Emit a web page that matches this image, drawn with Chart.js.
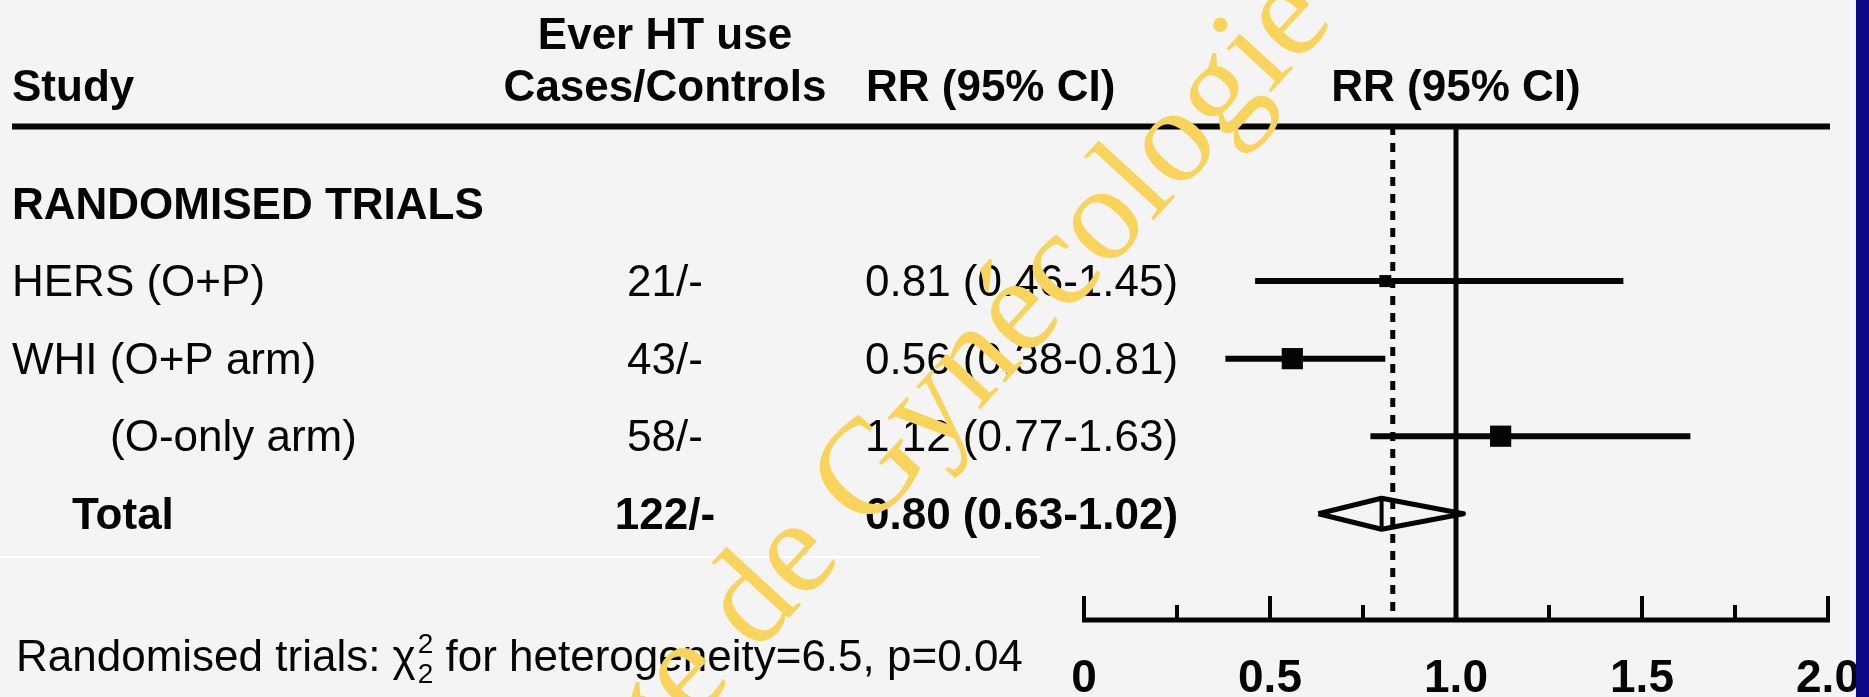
<!DOCTYPE html>
<html>
<head>
<meta charset="utf-8">
<script src="https://cdn.jsdelivr.net/npm/chart.js@4.4.1/dist/chart.umd.min.js"></script>
<style>
  html, body { margin: 0; padding: 0; background: #f4f4f4; overflow: hidden; }
  #wrap { position: relative; width: 1869px; height: 697px; }
  canvas { display: block; }
</style>
</head>
<body>
<div id="wrap"><canvas id="forest" width="1869" height="697"></canvas></div>
<script>
// ---- Study data ----
const sectionTitle = 'RANDOMISED TRIALS';
const studyNames = ['HERS (O+P)', 'WHI (O+P arm)', '(O-only arm)'];
const studyCases = ['21/-', '43/-', '58/-'];
const studyRR = [0.81, 0.56, 1.12];
const studyLow = [0.46, 0.38, 0.77];
const studyHigh = [1.45, 0.81, 1.63];
const studyRows = [2, 3, 4];

const totalName = 'Total';
const totalCases = '122/-';
const totalRR = 0.80;
const totalLow = 0.63;
const totalHigh = 1.02;
const totalRow = 5;
const sectionRow = 1;

// pooled estimate (dashed) and line of no effect
const pooledRR = 0.83;
const noEffectRR = 1.0;

// axis ticks
const tickValues = [0, 0.25, 0.5, 0.75, 1.0, 1.25, 1.5, 1.75, 2.0];
const tickLabels = ['0', '', '0.5', '', '1.0', '', '1.5', '', '2.0'];

const footnote = {
  before: 'Randomised trials: ',
  symbol: '\u03C7',
  sup: '2',
  sub: '2',
  after: ' for heterogeneity=6.5, p=0.04'
};

// ---- drawing helpers ----
const fmt = v => v.toFixed(2);
const ciText = (r, l, h) => `${fmt(r)} (${fmt(l)}-${fmt(h)})`;

const Y_MIN = 0, Y_MAX = 6.37;
const DIAMOND_HALF = 0.2;
const SANS = '"Liberation Sans", Arial, Helvetica, sans-serif';
const INK = '#050505';
const TEXT_DY = 3;

const lineDefaults = {
  showLine: true, pointRadius: 0, borderColor: INK, fill: false,
  tension: 0, borderCapStyle: 'butt', borderJoinStyle: 'miter'
};

const datasets = [];
// line of no effect
datasets.push(Object.assign({}, lineDefaults, {
  data: [{ x: noEffectRR, y: Y_MIN }, { x: noEffectRR, y: Y_MAX }],
  borderWidth: 5
}));
// pooled estimate, dashed
datasets.push(Object.assign({}, lineDefaults, {
  data: [{ x: pooledRR, y: Y_MIN }, { x: pooledRR, y: Y_MAX }],
  borderWidth: 5, borderDash: [9, 8]
}));
// confidence intervals
studyRR.forEach((_, i) => {
  datasets.push(Object.assign({}, lineDefaults, {
    data: [{ x: studyLow[i], y: studyRows[i] }, { x: studyHigh[i], y: studyRows[i] }],
    borderWidth: 6
  }));
});
// point estimates (box size reflects weight)
datasets.push({
  showLine: false,
  data: studyRR.map((v, i) => ({ x: v, y: studyRows[i] })),
  pointStyle: 'rect',
  pointRadius: [8.5, 15, 15],
  pointBackgroundColor: INK,
  pointBorderColor: INK,
  pointBorderWidth: 0
});
// pooled diamond
datasets.push(Object.assign({}, lineDefaults, {
  data: [
    { x: totalLow, y: totalRow },
    { x: totalRR, y: totalRow - DIAMOND_HALF },
    { x: totalHigh, y: totalRow },
    { x: totalRR, y: totalRow + DIAMOND_HALF },
    { x: totalLow, y: totalRow }
  ],
  borderWidth: 5, borderJoinStyle: 'round'
}));
datasets.push(Object.assign({}, lineDefaults, {
  data: [{ x: totalRR, y: totalRow - DIAMOND_HALF }, { x: totalRR, y: totalRow + DIAMOND_HALF }],
  borderWidth: 4
}));

const forestDecor = {
  id: 'forestDecor',
  beforeDraw(chart) {
    const { ctx, width, height } = chart;
    ctx.save();
    ctx.fillStyle = '#f4f4f4';
    ctx.fillRect(0, 0, width, height);
    // faint seam under the table
    ctx.fillStyle = '#ffffff';
    ctx.fillRect(0, 556, 1040, 2);
    ctx.restore();
  },
  afterDatasetsDraw(chart) {
    const { ctx, chartArea } = chart;
    const xs = chart.scales.x, ys = chart.scales.y;
    const x0 = xs.getPixelForValue(0), x2 = xs.getPixelForValue(2);
    const top = ys.getPixelForValue(Y_MIN);
    const axisY = chartArea.bottom;
    const rowY = r => ys.getPixelForValue(r) + TEXT_DY;
    ctx.save();
    ctx.fillStyle = INK;

    // header rule
    ctx.fillRect(12, top - 2.5, x2 + 2 - 12, 6);

    // x axis with upward ticks
    ctx.fillRect(x0 - 2, axisY - 2.5, x2 - x0 + 4, 5);
    ctx.font = `bold 46px ${SANS}`;
    ctx.textAlign = 'center';
    ctx.textBaseline = 'middle';
    tickValues.forEach((v, i) => {
      const px = xs.getPixelForValue(v);
      const major = tickLabels[i] !== '';
      const h = major ? 24 : 15;
      ctx.fillRect(px - 2, axisY - h, 4, h);
      if (major) ctx.fillText(tickLabels[i], px, 679);
    });

    // column headings
    ctx.font = `bold 44px ${SANS}`;
    ctx.textBaseline = 'middle';
    ctx.textAlign = 'center';
    ctx.fillText('Ever HT use', 665, 37);
    ctx.fillText('Cases/Controls', 665, 89);
    ctx.fillText('RR (95% CI)', xs.getPixelForValue(noEffectRR), 89);
    ctx.textAlign = 'left';
    ctx.fillText('Study', 12, 89);
    ctx.fillText('RR (95% CI)', 866, 89);

    // section title
    ctx.fillText(sectionTitle, 12, rowY(sectionRow));

    // study rows
    ctx.font = `44px ${SANS}`;
    studyNames.forEach((name, i) => {
      const py = rowY(studyRows[i]);
      ctx.textAlign = 'left';
      ctx.fillText(name, name.startsWith('(') ? 110 : 12, py);
      ctx.fillText(ciText(studyRR[i], studyLow[i], studyHigh[i]), 865, py);
      ctx.textAlign = 'center';
      ctx.fillText(studyCases[i], 665, py);
    });

    // total row
    ctx.font = `bold 44px ${SANS}`;
    const ty = rowY(totalRow);
    ctx.textAlign = 'left';
    ctx.fillText(totalName, 72, ty);
    ctx.fillText(ciText(totalRR, totalLow, totalHigh), 865, ty);
    ctx.textAlign = 'center';
    ctx.fillText(totalCases, 665, ty);

    // heterogeneity footnote
    ctx.font = `44px ${SANS}`;
    ctx.textAlign = 'left';
    let fx = 16;
    const fy = 659;
    ctx.fillText(footnote.before, fx, fy);
    fx += ctx.measureText(footnote.before).width;
    ctx.fillText(footnote.symbol, fx, fy);
    fx += ctx.measureText(footnote.symbol).width + 2;
    ctx.font = `28px ${SANS}`;
    ctx.fillText(footnote.sup, fx, fy - 14);
    ctx.fillText(footnote.sub, fx, fy + 16);
    fx += ctx.measureText(footnote.sup).width;
    ctx.font = `44px ${SANS}`;
    ctx.fillText(footnote.after, fx, fy);
    ctx.restore();
  },
  afterDraw(chart) {
    const { ctx, width, height } = chart;
    ctx.save();
    // watermark
    ctx.translate(866, 534);
    ctx.rotate(-47.5 * Math.PI / 180);
    ctx.font = '136px "Liberation Serif", "DejaVu Serif", serif';
    ctx.fillStyle = '#f8d45c';
    ctx.textBaseline = 'alphabetic';
    ctx.textAlign = 'left';
    ctx.fillText('Gynécologie', 0, 0);
    ctx.textAlign = 'right';
    ctx.fillText('Collège de', -ctx.measureText(' ').width, 0);
    ctx.restore();
    // slide frame edge
    ctx.save();
    ctx.fillStyle = '#0b0b8a';
    ctx.fillRect(1856, 0, width - 1856, height);
    ctx.restore();
  }
};

new Chart(document.getElementById('forest'), {
  type: 'scatter',
  data: { datasets },
  options: {
    responsive: false,
    animation: false,
    events: [],
    layout: { padding: { left: 1084, right: 41, top: 126, bottom: 77 } },
    plugins: { legend: { display: false }, tooltip: { enabled: false } },
    scales: {
      x: { type: 'linear', min: 0, max: 2, display: false },
      y: { type: 'linear', min: Y_MIN, max: Y_MAX, reverse: true, display: false }
    }
  },
  plugins: [forestDecor]
});
</script>
</body>
</html>
